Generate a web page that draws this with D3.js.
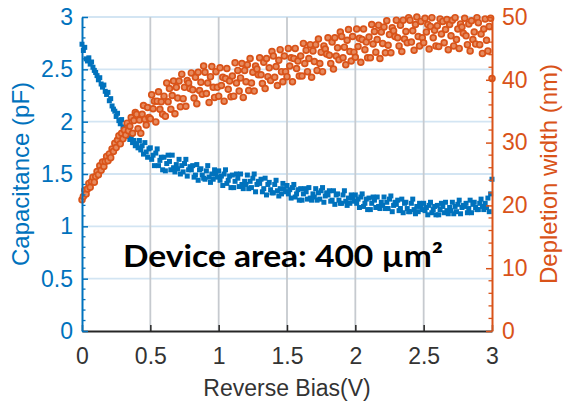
<!DOCTYPE html>
<html>
<head>
<meta charset="utf-8">
<script src="https://cdn.jsdelivr.net/npm/d3@7"></script>
<style>
  html, body { margin: 0; padding: 0; background: #fff; }
  svg { display: block; }
</style>
</head>
<body>
<svg id="chart" width="567" height="406"></svg>
<script>
// Reverse-bias sweep, 0 to 3 V in 10 mV steps (301 points)
const biasStep = 0.01;

// Measured capacitance (pF), one row per 0.1 V
const capacitance = [
  2.74, 2.68, 2.71, 2.60, 2.58, 2.61, 2.55, 2.57, 2.52, 2.49,
  2.47, 2.44, 2.40, 2.42, 2.36, 2.33, 2.35, 2.29, 2.26, 2.28,
  2.20, 2.22, 2.15, 2.12, 2.10, 2.05, 2.08, 2.01, 1.98, 2.02,
  1.95, 1.90, 1.93, 1.86, 1.89, 1.83, 1.86, 1.80, 1.82, 1.77,
  1.79, 1.75, 1.82, 1.73, 1.77, 1.69, 1.80, 1.71, 1.66, 1.74,
  1.75, 1.64, 1.68, 1.58, 1.70, 1.74, 1.58, 1.63, 1.66, 1.54,
  1.66, 1.53, 1.60, 1.68, 1.62, 1.54, 1.68, 1.56, 1.52, 1.59,
  1.55, 1.64, 1.50, 1.58, 1.52, 1.60, 1.64, 1.48, 1.54, 1.57,
  1.54, 1.58, 1.47, 1.49, 1.59, 1.44, 1.54, 1.55, 1.49, 1.46,
  1.45, 1.53, 1.58, 1.47, 1.42, 1.50, 1.45, 1.54, 1.50, 1.47,
  1.53, 1.44, 1.48, 1.39, 1.50, 1.54, 1.41, 1.44, 1.48, 1.37,
  1.49, 1.37, 1.43, 1.50, 1.46, 1.38, 1.50, 1.40, 1.36, 1.43,
  1.40, 1.49, 1.36, 1.43, 1.37, 1.46, 1.50, 1.33, 1.40, 1.43,
  1.41, 1.45, 1.33, 1.36, 1.46, 1.30, 1.40, 1.42, 1.35, 1.32,
  1.32, 1.40, 1.44, 1.34, 1.29, 1.36, 1.31, 1.41, 1.36, 1.33,
  1.39, 1.31, 1.35, 1.27, 1.37, 1.40, 1.28, 1.31, 1.35, 1.25,
  1.36, 1.25, 1.31, 1.36, 1.33, 1.26, 1.37, 1.27, 1.25, 1.31,
  1.28, 1.36, 1.25, 1.32, 1.26, 1.34, 1.37, 1.23, 1.29, 1.32,
  1.30, 1.34, 1.24, 1.25, 1.34, 1.21, 1.30, 1.31, 1.25, 1.22,
  1.22, 1.30, 1.34, 1.24, 1.20, 1.27, 1.22, 1.30, 1.27, 1.24,
  1.30, 1.22, 1.26, 1.18, 1.28, 1.31, 1.19, 1.22, 1.26, 1.16,
  1.27, 1.16, 1.22, 1.28, 1.25, 1.18, 1.28, 1.19, 1.17, 1.23,
  1.20, 1.28, 1.17, 1.23, 1.17, 1.26, 1.29, 1.14, 1.20, 1.23,
  1.21, 1.25, 1.15, 1.17, 1.26, 1.13, 1.22, 1.23, 1.17, 1.14,
  1.14, 1.22, 1.26, 1.16, 1.12, 1.19, 1.14, 1.22, 1.19, 1.16,
  1.22, 1.15, 1.18, 1.11, 1.20, 1.23, 1.13, 1.16, 1.19, 1.11,
  1.20, 1.11, 1.16, 1.22, 1.19, 1.13, 1.23, 1.15, 1.12, 1.18,
  1.15, 1.23, 1.12, 1.19, 1.14, 1.21, 1.25, 1.12, 1.18, 1.20,
  1.19, 1.22, 1.13, 1.17, 1.25, 1.13, 1.21, 1.23, 1.18, 1.16,
  1.16, 1.22, 1.26, 1.19, 1.16, 1.22, 1.18, 1.27, 1.14, 1.31,
  1.45
];

// Extracted depletion width (nm), one row per 0.1 V
const depletionWidth = [
  20.9, 21.4, 22.4, 21.8, 22.6, 23.5, 22.9, 23.8, 24.5, 23.7,
  24.6, 25.4, 24.9, 26.3, 25.6, 26.9, 26.2, 27.0, 27.8, 27.1,
  28.2, 27.6, 29.0, 28.6, 29.9, 29.2, 30.4, 31.1, 29.8, 31.5,
  30.6, 32.0, 31.2, 33.1, 31.9, 32.6, 34.0, 31.5, 33.5, 34.8,
  34.5, 32.2, 33.6, 31.5, 34.5, 35.9, 33.7, 32.8, 35.6, 34.0,
  33.8, 37.6, 35.4, 36.6, 33.3, 36.6, 38.1, 35.3, 36.5, 34.5,
  37.4, 34.2, 39.5, 36.5, 38.6, 35.3, 37.5, 39.8, 34.6, 38.8,
  37.1, 39.8, 35.7, 40.9, 37.0, 38.8, 35.8, 39.9, 39.5, 38.6,
  41.1, 38.4, 37.1, 40.4, 36.2, 41.2, 38.3, 39.6, 37.7, 42.2,
  41.2, 37.8, 39.5, 36.4, 40.5, 42.1, 38.8, 37.2, 41.3, 38.8,
  37.4, 41.9, 39.1, 40.4, 36.6, 40.2, 41.8, 38.5, 39.8, 37.3,
  40.6, 37.4, 42.7, 39.5, 41.5, 38.2, 40.3, 42.6, 37.2, 41.5,
  39.7, 42.4, 38.3, 43.4, 39.5, 41.2, 38.2, 42.2, 41.7, 40.8,
  43.5, 40.8, 39.4, 42.8, 38.6, 43.4, 40.5, 41.9, 39.9, 44.5,
  43.8, 40.4, 42.1, 39.1, 43.1, 44.8, 41.3, 39.7, 43.8, 41.3,
  40.5, 45.0, 42.2, 43.5, 39.7, 43.4, 45.0, 41.8, 43.0, 40.6,
  43.8, 40.6, 45.8, 42.6, 44.7, 41.3, 43.4, 45.6, 40.4, 44.6,
  42.9, 45.6, 41.5, 46.5, 42.6, 44.4, 41.3, 45.4, 44.9, 44.1,
  46.7, 43.9, 42.6, 46.0, 41.7, 46.7, 43.8, 45.1, 43.2, 47.6,
  46.9, 43.5, 45.2, 42.4, 46.3, 48.0, 44.5, 43.0, 46.9, 44.4,
  43.6, 48.1, 45.3, 46.6, 42.8, 46.4, 48.1, 44.8, 46.0, 43.5,
  46.8, 43.5, 48.8, 45.7, 47.7, 44.4, 46.4, 48.7, 43.4, 47.6,
  45.8, 48.4, 44.3, 49.4, 45.5, 47.2, 44.3, 48.3, 47.8, 46.9,
  49.5, 46.7, 45.4, 48.7, 44.5, 49.5, 46.5, 47.7, 45.9, 49.9,
  49.5, 46.0, 47.8, 44.7, 48.8, 50.0, 46.9, 45.4, 49.3, 46.7,
  45.9, 49.8, 47.6, 48.8, 44.9, 48.5, 49.9, 46.7, 47.9, 45.4,
  48.6, 45.3, 49.7, 47.3, 49.3, 45.9, 48.0, 49.6, 44.8, 48.8,
  47.0, 49.5, 45.4, 49.9, 46.4, 48.1, 45.0, 48.9, 48.4, 47.4,
  49.8, 47.0, 45.6, 48.9, 44.6, 49.4, 46.4, 47.6, 45.7, 49.9,
  49.1, 45.6, 47.3, 44.2, 48.1, 49.7, 46.3, 44.6, 48.5, 49.8,
  40.2
];

const biasTicks = [0, 0.5, 1, 1.5, 2, 2.5, 3];
const capTicks = [0, 0.5, 1, 1.5, 2, 2.5, 3];
const widthTicks = [0, 10, 20, 30, 40, 50];

const blue = "#0072BD";
const orange = "#D95319";
const ink = "#262626";
const font = "'Liberation Sans', Arimo, Arial, sans-serif";

const svg = d3.select("#chart");
const plotLeft = 82, plotRight = 492, plotTop = 17, plotBottom = 331;

const x = d3.scaleLinear().domain([0, 3]).range([plotLeft, plotRight]);
const yC = d3.scaleLinear().domain([0, 3]).range([plotBottom, plotTop]);
const yW = d3.scaleLinear().domain([0, 50]).range([plotBottom, plotTop]);

const capPoints = capacitance.map((c, i) => ({ v: i * biasStep, c }));
const widthPoints = depletionWidth.map((w, i) => ({ v: i * biasStep, w }));

svg.append("rect").attr("width", 567).attr("height", 406).attr("fill", "#fff");

// grid: horizontal lines follow the left axis, vertical lines the bias ticks
const grid = svg.append("g");
grid.append("g").selectAll("line").data(capTicks.filter(t => t > 0)).join("line")
  .attr("x1", plotLeft).attr("x2", plotRight)
  .attr("y1", d => yC(d)).attr("y2", d => yC(d))
  .attr("stroke", "#d3e5f3").attr("stroke-width", 1.8);
grid.append("g").selectAll("line").data(biasTicks.filter(t => t > 0 && t < 3)).join("line")
  .attr("x1", d => x(d)).attr("x2", d => x(d))
  .attr("y1", plotTop).attr("y2", plotBottom)
  .attr("stroke", "#c6cacf").attr("stroke-width", 1.8);

// capacitance: filled squares
const sq = 5;
svg.append("g").selectAll("rect").data(capPoints).join("rect")
  .attr("x", d => x(d.v) - sq / 2).attr("y", d => yC(d.c) - sq / 2)
  .attr("width", sq).attr("height", sq)
  .attr("fill", blue);

// depletion width: open circles
svg.append("g").selectAll("circle").data(widthPoints).join("circle")
  .attr("cx", d => x(d.v)).attr("cy", d => yW(d.w)).attr("r", 2.9)
  .attr("fill", "#e68a5e").attr("stroke", orange).attr("stroke-width", 1.7);

function styleAxis(g, color, size) {
  g.attr("font-family", null);
  g.select(".domain").attr("stroke", color).attr("stroke-width", 2);
  g.selectAll(".tick line").attr("stroke", color).attr("stroke-width", 1.5);
  g.selectAll(".tick text").attr("fill", color)
    .attr("font-family", font).style("font-size", size + "px");
}

// minor ticks on both y axes
const minorC = d3.range(1, 30).filter(k => k % 5 !== 0).map(k => k / 10);
const minorW = d3.range(1, 25).filter(k => k % 5 !== 0).map(k => k * 2);
svg.append("g").selectAll("line").data(minorC).join("line")
  .attr("x1", plotLeft).attr("x2", plotLeft + 3.5)
  .attr("y1", d => yC(d)).attr("y2", d => yC(d))
  .attr("stroke", blue).attr("stroke-width", 1.3);
svg.append("g").selectAll("line").data(minorW).join("line")
  .attr("x1", plotRight).attr("x2", plotRight - 3.5)
  .attr("y1", d => yW(d)).attr("y2", d => yW(d))
  .attr("stroke", orange).attr("stroke-width", 1.3);

const xAxis = svg.append("g").attr("transform", `translate(0,${plotBottom})`)
  .call(d3.axisBottom(x).tickValues(biasTicks).tickFormat(d3.format("~g"))
    .tickSize(-6).tickSizeOuter(0).tickPadding(17));
styleAxis(xAxis, ink, 23);
xAxis.selectAll(".tick text").attr("fill", "#333");

const yAxisL = svg.append("g").attr("transform", `translate(${plotLeft},0)`)
  .call(d3.axisLeft(yC).tickValues(capTicks).tickFormat(d3.format("~g"))
    .tickSize(-6).tickSizeOuter(0).tickPadding(9));
styleAxis(yAxisL, blue, 23);

const yAxisR = svg.append("g").attr("transform", `translate(${plotRight},0)`)
  .call(d3.axisRight(yW).tickValues(widthTicks).tickFormat(d3.format("~g"))
    .tickSize(-6).tickSizeOuter(0).tickPadding(10));
styleAxis(yAxisR, orange, 23);

// axis titles
svg.append("text")
  .attr("x", (plotLeft + plotRight) / 2).attr("y", 396)
  .attr("text-anchor", "middle")
  .attr("font-family", font).style("font-size", "23px")
  .attr("fill", "#333")
  .text("Reverse Bias(V)");

svg.append("text")
  .attr("transform", `translate(29,${(plotTop + plotBottom) / 2}) rotate(-90)`)
  .attr("text-anchor", "middle")
  .attr("font-family", font).style("font-size", "24px")
  .attr("fill", blue)
  .text("Capacitance (pF)");

svg.append("text")
  .attr("transform", `translate(557,${(plotTop + plotBottom) / 2}) rotate(-90)`)
  .attr("text-anchor", "middle")
  .attr("font-family", font).style("font-size", "24px")
  .attr("fill", orange)
  .text("Depletion width (nm)");

// device annotation
svg.append("text")
  .attr("x", 123).attr("y", 267)
  .attr("textLength", 320).attr("lengthAdjust", "spacingAndGlyphs")
  .attr("font-family", "Lato, 'Open Sans', sans-serif")
  .style("font-weight", "700").style("font-size", "30px")
  .attr("fill", "#000")
  .text("Device area: 400 µm²");
</script>
</body>
</html>
